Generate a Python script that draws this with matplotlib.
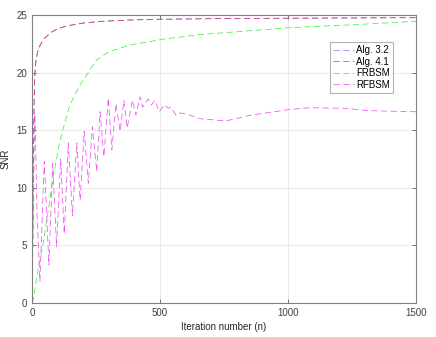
import numpy as np
import matplotlib
matplotlib.use("Agg")
import matplotlib.pyplot as plt

# values
alg_iter = [0, 3, 6, 8, 10, 13, 17, 22, 30, 40, 50, 75, 100, 135, 200, 270,
            400, 500, 700, 1000, 1500]
alg_snr = [0.3, 6, 13, 17, 19.3, 20.5, 21.2, 21.8, 22.3, 22.7, 23.0, 23.5,
           23.8, 24.05, 24.3, 24.45, 24.58, 24.63, 24.68, 24.72, 24.77]

fr_iter = [0, 5, 25, 44, 60, 83, 110, 148, 187, 252, 300, 383, 512, 656, 773,
           1008, 1250, 1500]
fr_snr = [0, 0.3, 3.1, 5.2, 7.5, 11, 14.2, 17.2, 18.9, 21.1, 21.8, 22.4, 22.9,
          23.3, 23.5, 23.9, 24.15, 24.45]

rf_iter = [0, 4, 8, 11, 14, 20, 31, 48, 66, 81, 96, 112, 126, 142, 158, 175,
           188, 204, 220, 236, 253, 266, 281, 298, 312, 328, 344, 359, 372,
           392, 406, 422, 432, 454, 467, 480, 497, 516, 533, 542, 563, 578,
           604, 656, 757, 852, 1008, 1086, 1229, 1307, 1500]
rf_snr = [0.5, 6, 13, 16.4, 14, 7.5, 1.9, 12.3, 3.3, 12.1, 4.9, 12.5, 6.0,
          13.9, 7.6, 13.9, 8.9, 14.9, 10.4, 15.3, 11.4, 16.6, 12.7, 17.8, 13.3,
          17.3, 14.9, 17.6, 15.2, 17.6, 16.3, 17.9, 17.0, 17.7, 17.2, 17.6,
          16.6, 17.2, 16.9, 17.0, 16.3, 16.5, 16.4, 16.0, 15.8, 16.3, 16.8,
          16.95, 16.9, 16.7, 16.6]

plt.rcParams['font.family'] = ['Liberation Sans', 'DejaVu Sans']
plt.rcParams['font.size'] = 7
plt.rcParams['lines.scale_dashes'] = False

fig = plt.figure(figsize=(4.36, 3.37), dpi=100)
ax = fig.add_axes([32/436, 34/337, 384/436, 288/337])

dash = (4.5, 2.5)
lw = 0.55
ax.plot(alg_iter, alg_snr, color='#8080ff', lw=lw, dashes=dash, label='Alg. 3.2')
ax.plot(alg_iter, alg_snr, color='#e03060', lw=lw, dashes=dash, alpha=0.9,
        label='Alg. 4.1')
ax.plot(fr_iter, fr_snr, color='#40f040', lw=lw, dashes=dash, label='FRBSM')
ax.plot(rf_iter, rf_snr, color='#f050f0', lw=lw, dashes=dash, label='RFBSM')

ax.set_xlim(0, 1500)
ax.set_ylim(0, 25)
ax.set_xticks([0, 500, 1000, 1500])
ax.set_yticks([0, 5, 10, 15, 20, 25])
ax.grid(True, color='#e6e6e6', lw=0.6)
ax.set_axisbelow(True)
ax.tick_params(direction='in', length=3, width=0.5, colors='#404040',
               top=True, right=True, labelsize=7)
for s in ax.spines.values():
    s.set_color('#808080')
    s.set_linewidth(0.8)

ax.set_xlabel('Iteration number (n)', fontsize=7, color='#262626', labelpad=3)
ax.set_ylabel('SNR', fontsize=7, color='#262626', labelpad=4)

leg = ax.legend(loc='upper left', bbox_to_anchor=(0.776, 0.905),
                fontsize=7, frameon=True, fancybox=False, handlelength=2.2,
                handletextpad=0.2, borderpad=0.3, labelspacing=0.15,
                borderaxespad=0)
leg.get_frame().set_edgecolor('#a0a0a0')
leg.get_frame().set_linewidth(0.8)

fig.savefig('out.png', dpi=100)
